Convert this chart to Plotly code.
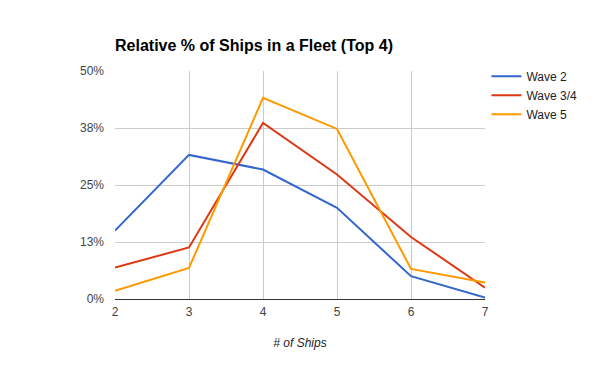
import plotly.graph_objects as go

ships = [2, 3, 4, 5, 6, 7]
wave2 = [15.0, 31.6, 28.4, 20.0, 5.0, 0.3]
wave34 = [6.9, 11.3, 38.6, 27.3, 13.6, 2.5]
wave5 = [1.8, 6.8, 44.1, 37.3, 6.6, 3.6]
series_names = ["Wave 2", "Wave 3/4", "Wave 5"]
colors = ["#3366cc", "#dc3912", "#ff9900"]
ytick_vals = [0, 12.5, 25, 37.5, 50]
ytick_text = ["0%", "13%", "25%", "38%", "50%"]

fig = go.Figure()
for name, vals, c in zip(series_names, [wave2, wave34, wave5], colors):
    fig.add_trace(go.Scatter(x=ships, y=vals, mode="lines", name=name,
                             line=dict(color=c, width=2)))

font = "Liberation Sans, Arial, sans-serif"
fig.update_layout(
    width=600, height=371,
    margin=dict(l=107, r=123, t=63, b=80),
    paper_bgcolor="white", plot_bgcolor="white",
    font=dict(family=font, size=12, color="#444"),
    title=dict(text="<b>Relative % of Ships in a Fleet (Top 4)</b>",
               x=107/600, xanchor="left", y=1 - 37/371, yanchor="middle",
               font=dict(size=16, color="#000", family=font)),
    legend=dict(x=1.004, xanchor="left", y=1.041, yanchor="top",
                font=dict(size=12, color="#222"), tracegroupgap=0,
                bgcolor="rgba(0,0,0,0)"),
    xaxis=dict(range=[2, 7], tickvals=ships, showgrid=True, gridcolor="#cccccc",
               zeroline=False, showline=True, linecolor="#333", linewidth=1,
               ticks="", ticklabelstandoff=2,
               title=dict(text="<i># of Ships</i>", standoff=20,
                          font=dict(size=12, color="#222"))),
    yaxis=dict(range=[0, 50], tickvals=ytick_vals, ticktext=ytick_text,
               showgrid=True, gridcolor="#cccccc", zeroline=False,
               showline=False, ticks="", ticklabelstandoff=10),
)
fig.write_html("out.html")
